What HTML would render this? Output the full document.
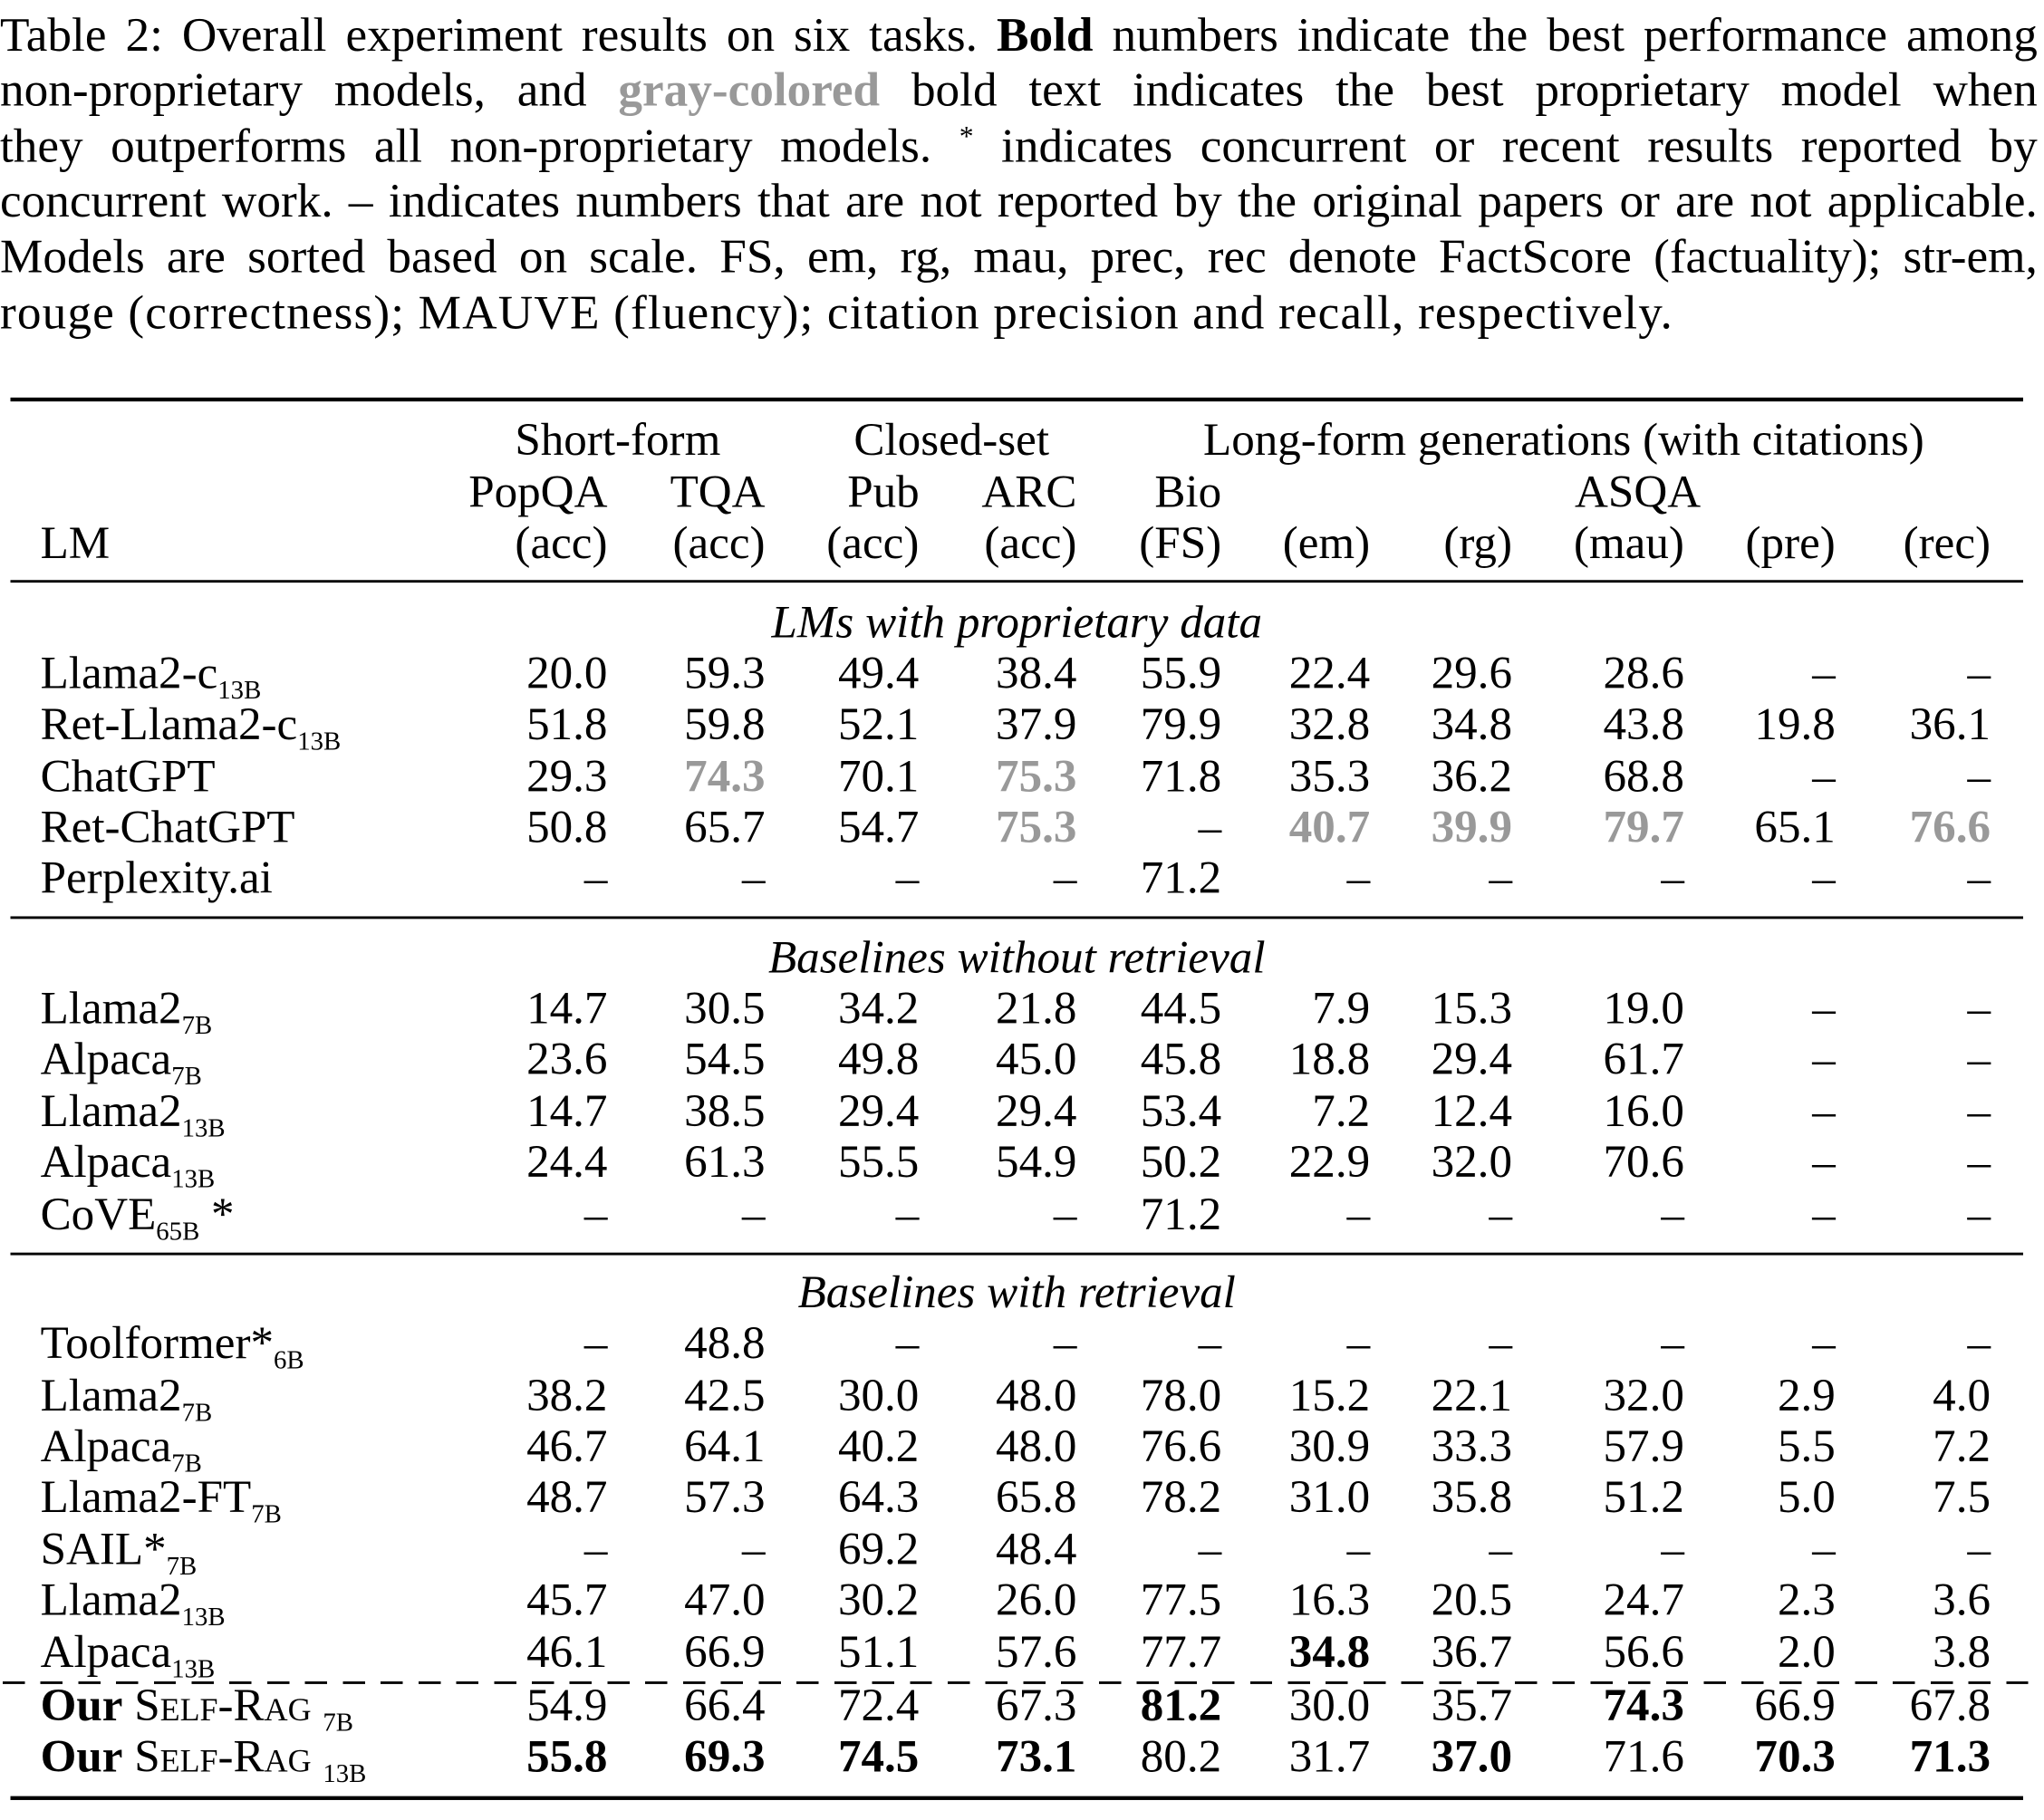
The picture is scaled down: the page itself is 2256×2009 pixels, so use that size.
<!DOCTYPE html>
<html><head><meta charset="utf-8"><style>
html,body{margin:0;padding:0;background:#fff;width:2256px;height:2009px;overflow:hidden}
#w{position:absolute;left:0;top:0;width:1568px;height:1396px;transform:scale(1.43878);transform-origin:0 0;font-family:"Liberation Serif",serif;color:#000}
.cap{position:absolute;left:0;width:1563px;font-size:37px;line-height:43px;height:43px;white-space:nowrap;text-align:justify;text-align-last:justify}
.r{position:absolute;left:0;width:1568px;height:40px;font-size:35.5px;line-height:40px;white-space:nowrap}
.r span{position:absolute;top:0}
.n{position:absolute;left:31px}
.c1,.c2,.c3,.c4,.c5,.c6,.c7,.c8,.c9,.c10{width:200px;text-align:right}
.c1{left:266px}.c2{left:387px}.c3{left:505px}.c4{left:626px}.c5{left:737px}.c6{left:851px}.c7{left:960px}.c8{left:1092px}.c9{left:1208px}.c10{left:1327px}
sub{font-size:20px;vertical-align:-8px;line-height:0}
sup{font-size:22px;vertical-align:12px;line-height:0}
b{font-weight:bold}
.g{color:#999;font-weight:bold}
.hr{position:absolute;left:8px;width:1544px;background:#000}
.sec{position:absolute;left:0;width:1560px;text-align:center;font-style:italic;font-size:35.5px;line-height:40px}
.sc{font-variant:small-caps}
</style></head><body><div id="w">
<div class="cap" style="top:6px">Table 2: Overall experiment results on six tasks. <b>Bold</b> numbers indicate the best performance among</div>
<div class="cap" style="top:48px">non-proprietary models, and <span class="g">gray-colored</span> bold text indicates the best proprietary model when</div>
<div class="cap" style="top:91px">they outperforms all non-proprietary models. <sup>*</sup> indicates concurrent or recent results reported by</div>
<div class="cap" style="top:133px">concurrent work. – indicates numbers that are not reported by the original papers or are not applicable.</div>
<div class="cap" style="top:176px">Models are sorted based on scale. FS, em, rg, mau, prec, rec denote FactScore (factuality); str-em,</div>
<div class="cap" style="top:219px;text-align-last:left;text-align:left;letter-spacing:0.8px">rouge (correctness); MAUVE (fluency); citation precision and recall, respectively.</div>

<div class="hr" style="top:305px;height:3px"></div>
<div class="r" style="top:317px"><span style="left:395px">Short-form</span><span style="left:655px">Closed-set</span><span style="left:923px">Long-form generations (with citations)</span></div>
<div class="r" style="top:357px"><span class="c1">PopQA</span><span class="c2">TQA</span><span style="left:650px">Pub</span><span class="c4">ARC</span><span class="c5">Bio</span><span style="left:1208px">ASQA</span></div>
<div class="r" style="top:396px"><span class="n">LM</span><span class="c1">(acc)</span><span class="c2">(acc)</span><span class="c3">(acc)</span><span class="c4">(acc)</span><span class="c5">(FS)</span><span class="c6">(em)</span><span class="c7">(rg)</span><span class="c8">(mau)</span><span class="c9">(pre)</span><span class="c10">(rec)</span></div>
<div class="hr" style="top:445px;height:2px"></div>

<div class="sec" style="top:457px">LMs with proprietary data</div>
<div class="r" style="top:496px"><span class="n">Llama2-c<sub>13B</sub></span><span class="c1">20.0</span><span class="c2">59.3</span><span class="c3">49.4</span><span class="c4">38.4</span><span class="c5">55.9</span><span class="c6">22.4</span><span class="c7">29.6</span><span class="c8">28.6</span><span class="c9">–</span><span class="c10">–</span></div>
<div class="r" style="top:535px"><span class="n">Ret-Llama2-c<sub>13B</sub></span><span class="c1">51.8</span><span class="c2">59.8</span><span class="c3">52.1</span><span class="c4">37.9</span><span class="c5">79.9</span><span class="c6">32.8</span><span class="c7">34.8</span><span class="c8">43.8</span><span class="c9">19.8</span><span class="c10">36.1</span></div>
<div class="r" style="top:575px"><span class="n">ChatGPT</span><span class="c1">29.3</span><span class="c2 g">74.3</span><span class="c3">70.1</span><span class="c4 g">75.3</span><span class="c5">71.8</span><span class="c6">35.3</span><span class="c7">36.2</span><span class="c8">68.8</span><span class="c9">–</span><span class="c10">–</span></div>
<div class="r" style="top:614px"><span class="n">Ret-ChatGPT</span><span class="c1">50.8</span><span class="c2">65.7</span><span class="c3">54.7</span><span class="c4 g">75.3</span><span class="c5">–</span><span class="c6 g">40.7</span><span class="c7 g">39.9</span><span class="c8 g">79.7</span><span class="c9">65.1</span><span class="c10 g">76.6</span></div>
<div class="r" style="top:653px"><span class="n">Perplexity.ai</span><span class="c1">–</span><span class="c2">–</span><span class="c3">–</span><span class="c4">–</span><span class="c5">71.2</span><span class="c6">–</span><span class="c7">–</span><span class="c8">–</span><span class="c9">–</span><span class="c10">–</span></div>
<div class="hr" style="top:703px;height:2px"></div>

<div class="sec" style="top:714px">Baselines without retrieval</div>
<div class="r" style="top:753px"><span class="n">Llama2<sub>7B</sub></span><span class="c1">14.7</span><span class="c2">30.5</span><span class="c3">34.2</span><span class="c4">21.8</span><span class="c5">44.5</span><span class="c6">7.9</span><span class="c7">15.3</span><span class="c8">19.0</span><span class="c9">–</span><span class="c10">–</span></div>
<div class="r" style="top:792px"><span class="n">Alpaca<sub>7B</sub></span><span class="c1">23.6</span><span class="c2">54.5</span><span class="c3">49.8</span><span class="c4">45.0</span><span class="c5">45.8</span><span class="c6">18.8</span><span class="c7">29.4</span><span class="c8">61.7</span><span class="c9">–</span><span class="c10">–</span></div>
<div class="r" style="top:832px"><span class="n">Llama2<sub>13B</sub></span><span class="c1">14.7</span><span class="c2">38.5</span><span class="c3">29.4</span><span class="c4">29.4</span><span class="c5">53.4</span><span class="c6">7.2</span><span class="c7">12.4</span><span class="c8">16.0</span><span class="c9">–</span><span class="c10">–</span></div>
<div class="r" style="top:871px"><span class="n">Alpaca<sub>13B</sub></span><span class="c1">24.4</span><span class="c2">61.3</span><span class="c3">55.5</span><span class="c4">54.9</span><span class="c5">50.2</span><span class="c6">22.9</span><span class="c7">32.0</span><span class="c8">70.6</span><span class="c9">–</span><span class="c10">–</span></div>
<div class="r" style="top:911px"><span class="n">CoVE<sub>65B</sub> *</span><span class="c1">–</span><span class="c2">–</span><span class="c3">–</span><span class="c4">–</span><span class="c5">71.2</span><span class="c6">–</span><span class="c7">–</span><span class="c8">–</span><span class="c9">–</span><span class="c10">–</span></div>
<div class="hr" style="top:961px;height:2px"></div>

<div class="sec" style="top:971px">Baselines with retrieval</div>
<div class="r" style="top:1010px"><span class="n">Toolformer*<sub>6B</sub></span><span class="c1">–</span><span class="c2">48.8</span><span class="c3">–</span><span class="c4">–</span><span class="c5">–</span><span class="c6">–</span><span class="c7">–</span><span class="c8">–</span><span class="c9">–</span><span class="c10">–</span></div>
<div class="r" style="top:1050px"><span class="n">Llama2<sub>7B</sub></span><span class="c1">38.2</span><span class="c2">42.5</span><span class="c3">30.0</span><span class="c4">48.0</span><span class="c5">78.0</span><span class="c6">15.2</span><span class="c7">22.1</span><span class="c8">32.0</span><span class="c9">2.9</span><span class="c10">4.0</span></div>
<div class="r" style="top:1089px"><span class="n">Alpaca<sub>7B</sub></span><span class="c1">46.7</span><span class="c2">64.1</span><span class="c3">40.2</span><span class="c4">48.0</span><span class="c5">76.6</span><span class="c6">30.9</span><span class="c7">33.3</span><span class="c8">57.9</span><span class="c9">5.5</span><span class="c10">7.2</span></div>
<div class="r" style="top:1128px"><span class="n">Llama2-FT<sub>7B</sub></span><span class="c1">48.7</span><span class="c2">57.3</span><span class="c3">64.3</span><span class="c4">65.8</span><span class="c5">78.2</span><span class="c6">31.0</span><span class="c7">35.8</span><span class="c8">51.2</span><span class="c9">5.0</span><span class="c10">7.5</span></div>
<div class="r" style="top:1168px"><span class="n">SAIL*<sub>7B</sub></span><span class="c1">–</span><span class="c2">–</span><span class="c3">69.2</span><span class="c4">48.4</span><span class="c5">–</span><span class="c6">–</span><span class="c7">–</span><span class="c8">–</span><span class="c9">–</span><span class="c10">–</span></div>
<div class="r" style="top:1207px"><span class="n">Llama2<sub>13B</sub></span><span class="c1">45.7</span><span class="c2">47.0</span><span class="c3">30.2</span><span class="c4">26.0</span><span class="c5">77.5</span><span class="c6">16.3</span><span class="c7">20.5</span><span class="c8">24.7</span><span class="c9">2.3</span><span class="c10">3.6</span></div>
<div class="r" style="top:1247px"><span class="n">Alpaca<sub>13B</sub></span><span class="c1">46.1</span><span class="c2">66.9</span><span class="c3">51.1</span><span class="c4">57.6</span><span class="c5">77.7</span><span class="c6"><b>34.8</b></span><span class="c7">36.7</span><span class="c8">56.6</span><span class="c9">2.0</span><span class="c10">3.8</span></div>
<div style="position:absolute;left:2px;top:1290px;width:1556px;height:2px;background:repeating-linear-gradient(90deg,#000 0 17px,transparent 17px 29px)"></div>
<div class="r" style="top:1288px"><span class="n"><b>Our</b> <span class="sc" style="position:static">Self-Rag</span> <sub>7B</sub></span><span class="c1">54.9</span><span class="c2">66.4</span><span class="c3">72.4</span><span class="c4">67.3</span><span class="c5"><b>81.2</b></span><span class="c6">30.0</span><span class="c7">35.7</span><span class="c8"><b>74.3</b></span><span class="c9">66.9</span><span class="c10">67.8</span></div>
<div class="r" style="top:1327px"><span class="n"><b>Our</b> <span class="sc" style="position:static">Self-Rag</span> <sub>13B</sub></span><span class="c1"><b>55.8</b></span><span class="c2"><b>69.3</b></span><span class="c3"><b>74.5</b></span><span class="c4"><b>73.1</b></span><span class="c5">80.2</span><span class="c6">31.7</span><span class="c7"><b>37.0</b></span><span class="c8">71.6</span><span class="c9"><b>70.3</b></span><span class="c10"><b>71.3</b></span></div>
<div class="hr" style="top:1378px;height:3px"></div>
</div></body></html>
